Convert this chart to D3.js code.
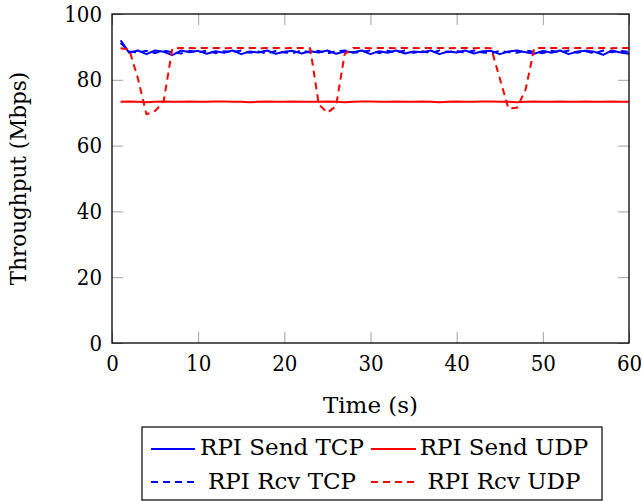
<!DOCTYPE html>
<html>
<head>
<meta charset="utf-8">
<script src="https://cdn.jsdelivr.net/npm/d3@7"></script>
<style>
  body { margin: 0; background: #fff; }
</style>
</head>
<body>
<svg id="chart"></svg>
<script>
// Time axis: one sample per second
var seconds = d3.range(1, 61);

var sendTCP = [
  92.0, 88.2, 88.9, 87.8, 88.9, 88.5, 87.5, 88.9, 88.4, 88.8,
  87.9, 88.7, 88.2, 88.9, 87.8, 88.6, 88.3, 88.9, 87.9, 88.5,
  88.8, 88.0, 88.7, 88.3, 88.9, 87.9, 88.6, 88.4, 88.9, 87.8,
  88.7, 88.2, 88.9, 88.0, 88.6, 88.4, 88.9, 87.8, 88.6, 88.3,
  88.9, 88.0, 88.7, 88.8, 87.8, 88.6, 88.9, 88.4, 87.9, 88.8,
  88.2, 88.9, 87.8, 88.6, 88.8, 88.5, 87.6, 88.9, 88.3, 87.9
];
var sendUDP = [
  73.3, 73.4, 73.3, 73.2, 73.3, 73.4, 73.3, 73.3, 73.4, 73.3,
  73.3, 73.4, 73.4, 73.3, 73.3, 73.2, 73.3, 73.4, 73.3, 73.3,
  73.4, 73.3, 73.3, 73.3, 73.4, 73.3, 73.2, 73.3, 73.4, 73.4,
  73.3, 73.3, 73.4, 73.3, 73.3, 73.4, 73.3, 73.2, 73.3, 73.4,
  73.3, 73.3, 73.4, 73.4, 73.3, 73.3, 73.2, 73.3, 73.4, 73.3,
  73.3, 73.4, 73.3, 73.3, 73.4, 73.3, 73.3, 73.4, 73.3, 73.3
];
var rcvTCP = [
  91.2, 88.6, 88.3, 88.8, 88.1, 88.9, 88.4, 88.0, 88.8, 88.3,
  88.9, 88.1, 88.7, 88.4, 88.9, 88.2, 88.6, 88.0, 88.8, 88.3,
  88.1, 88.9, 88.3, 88.8, 88.0, 88.7, 88.9, 88.2, 88.5, 88.9,
  88.1, 88.8, 88.3, 88.9, 88.2, 88.7, 88.1, 88.9, 88.4, 88.8,
  88.2, 88.9, 88.3, 88.1, 88.8, 88.4, 88.2, 88.9, 88.5, 88.1,
  88.8, 88.3, 88.9, 88.2, 88.7, 88.0, 88.9, 88.4, 88.8, 88.5
];
var rcvUDP = [
  89.6, 89.2, 80.5, 69.5, 70.5, 73.5, 89.5, 89.7, 89.7, 89.6,
  89.7, 89.7, 89.6, 89.7, 89.7, 89.7, 89.6, 89.7, 89.7, 89.6,
  89.7, 89.7, 89.6, 72.5, 70.0, 72.0, 87.8, 89.7, 89.7, 89.6,
  89.7, 89.7, 89.6, 89.7, 89.7, 89.6, 89.7, 89.7, 89.6, 89.7,
  89.7, 89.6, 89.7, 89.6, 80.5, 71.3, 71.5, 77.0, 89.6, 89.7,
  89.7, 89.6, 89.7, 89.7, 89.6, 89.7, 89.7, 89.6, 89.7, 89.7
];

var xTicks = [0, 10, 20, 30, 40, 50, 60];
var yTicks = [0, 20, 40, 60, 80, 100];

// series in drawing order, legend reads row by row (2 columns)
var series = [
  { name: "RPI Send TCP", values: sendTCP, color: "#0000ff", dashed: false },
  { name: "RPI Send UDP", values: sendUDP, color: "#ff0000", dashed: false },
  { name: "RPI Rcv TCP",  values: rcvTCP,  color: "#0000ff", dashed: true },
  { name: "RPI Rcv UDP",  values: rcvUDP,  color: "#ff0000", dashed: true }
];

var svgWidth = 642, svgHeight = 501;
var plot = { left: 112, right: 629, top: 14, bottom: 343 };
var dashPattern = "7,5";
var serifFont = "'DejaVu Serif', serif";

var svg = d3.select("#chart")
  .attr("width", svgWidth)
  .attr("height", svgHeight)
  .style("display", "block");

var xScale = d3.scaleLinear().domain([0, 60]).range([plot.left, plot.right]);
var yScale = d3.scaleLinear().domain([0, 100]).range([plot.bottom, plot.top]);

// inward ticks on all four sides
function styleAxis(g) {
  g.attr("font-family", "'DejaVu Serif Condensed', 'DejaVu Serif', serif")
    .attr("font-stretch", "condensed")
    .attr("font-size", 22);
  g.select(".domain").remove();
  g.selectAll(".tick line").attr("stroke", "#a0a0a0").attr("stroke-width", 1);
  g.selectAll(".tick text").attr("fill", "#000");
}

svg.append("g")
  .attr("transform", "translate(0," + plot.bottom + ")")
  .call(d3.axisBottom(xScale).tickValues(xTicks).tickSize(-11).tickPadding(12).tickFormat(d3.format("d")))
  .call(styleAxis);

svg.append("g")
  .attr("transform", "translate(0," + plot.top + ")")
  .call(d3.axisTop(xScale).tickValues(xTicks).tickSize(-11).tickFormat(""))
  .call(styleAxis);

svg.append("g")
  .attr("transform", "translate(" + plot.left + ",0)")
  .call(d3.axisLeft(yScale).tickValues(yTicks).tickSize(-11).tickPadding(10).tickFormat(d3.format("d")))
  .call(styleAxis);

svg.append("g")
  .attr("transform", "translate(" + plot.right + ",0)")
  .call(d3.axisRight(yScale).tickValues(yTicks).tickSize(-11).tickFormat(""))
  .call(styleAxis);

// the lines
var line = d3.line()
  .x(function (d, i) { return xScale(seconds[i]); })
  .y(function (d) { return yScale(d); });

svg.append("g").selectAll("path")
  .data(series)
  .enter()
  .append("path")
  .attr("d", function (s) { return line(s.values); })
  .attr("fill", "none")
  .attr("stroke", function (s) { return s.color; })
  .attr("stroke-width", 2)
  .attr("stroke-linejoin", "round")
  .attr("stroke-dasharray", function (s) { return s.dashed ? dashPattern : null; });

// frame
svg.append("rect")
  .attr("x", plot.left)
  .attr("y", plot.top)
  .attr("width", plot.right - plot.left)
  .attr("height", plot.bottom - plot.top)
  .attr("fill", "none")
  .attr("stroke", "#000")
  .attr("stroke-width", 1.3);

// axis titles
svg.append("text")
  .attr("x", (plot.left + plot.right) / 2)
  .attr("y", 413)
  .attr("text-anchor", "middle")
  .attr("font-family", serifFont)
  .attr("font-size", 23)
  .text("Time (s)");

svg.append("text")
  .attr("transform", "translate(26," + (plot.top + plot.bottom) / 2 + ") rotate(-90)")
  .attr("text-anchor", "middle")
  .attr("font-family", serifFont)
  .attr("font-size", 21.5)
  .text("Throughput (Mbps)");

// legend
var legendBox = { x: 142, y: 427, w: 460, h: 73 };
var legendCols = [{ lineX: 151, lineW: 44, textX: 282 }, { lineX: 371, lineW: 45, textX: 504 }];
var legendRows = [{ lineY: 449, textY: 455 }, { lineY: 482, textY: 489 }];

svg.append("rect")
  .attr("x", legendBox.x)
  .attr("y", legendBox.y)
  .attr("width", legendBox.w)
  .attr("height", legendBox.h)
  .attr("fill", "#fff")
  .attr("stroke", "#000")
  .attr("stroke-width", 1.2);

var entries = svg.append("g").selectAll("g")
  .data(series)
  .enter()
  .append("g");

entries.append("line")
  .attr("x1", function (s, i) { return legendCols[i % 2].lineX; })
  .attr("x2", function (s, i) { return legendCols[i % 2].lineX + legendCols[i % 2].lineW; })
  .attr("y1", function (s, i) { return legendRows[Math.floor(i / 2)].lineY; })
  .attr("y2", function (s, i) { return legendRows[Math.floor(i / 2)].lineY; })
  .attr("stroke", function (s) { return s.color; })
  .attr("stroke-width", 2)
  .attr("stroke-dasharray", function (s) { return s.dashed ? dashPattern : null; });

entries.append("text")
  .attr("x", function (s, i) { return legendCols[i % 2].textX; })
  .attr("y", function (s, i) { return legendRows[Math.floor(i / 2)].textY; })
  .attr("text-anchor", "middle")
  .attr("font-family", serifFont)
  .attr("font-size", 23)
  .text(function (s) { return s.name; });
</script>
</body>
</html>
